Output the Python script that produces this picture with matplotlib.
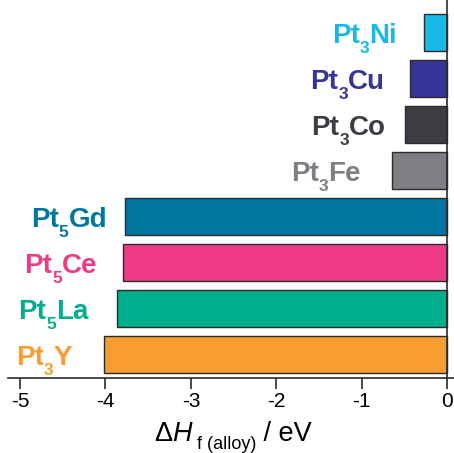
import matplotlib
matplotlib.use("Agg")
import matplotlib.pyplot as plt

plt.rcParams["font.family"] = ["Liberation Sans", "DejaVu Sans"]

# alloys, bottom to top
base = ["Pt", "Pt", "Pt", "Pt", "Pt", "Pt", "Pt", "Pt"]
sub = ["3", "5", "5", "5", "3", "3", "3", "3"]
metal = ["Y", "La", "Ce", "Gd", "Fe", "Co", "Cu", "Ni"]
dH = [-4.02, -3.87, -3.80, -3.77, -0.65, -0.50, -0.44, -0.27]
colors = ["#f89d31", "#00ae8b", "#ef3b86", "#00759f",
          "#7e7f85", "#3b3d42", "#35349a", "#19b9e6"]

# right edge of each name label, in eV
label_x = [-4.39, -4.20, -4.09, -3.98, -1.01, -0.72, -0.73, -0.59]

fig = plt.figure(figsize=(4.54, 4.53), dpi=100)
ax = fig.add_axes([0.0176, 0.1656, 0.982, 0.8344])
renderer = fig.canvas.get_renderer()


def text_width(s, **kw):
    t = fig.text(0, 0, s, **kw)
    w = t.get_window_extent(renderer).width
    t.remove()
    return w


def draw_pieces(pieces, xy, xycoords, ha="left", **kw):
    """pieces: list of (text, fontsize, drop_px, extra_kw); laid out along a baseline."""
    widths = [text_width(s, fontsize=fs, **kw, **ex) for s, fs, _, ex in pieces]
    total = sum(widths)
    x0 = {"left": 0, "right": -total, "center": -total / 2}[ha]
    for (s, fs, drop, ex), w in zip(pieces, widths):
        ax.annotate(s, xy=xy, xycoords=xycoords, xytext=(x0, -drop),
                    textcoords="offset pixels", fontsize=fs, ha="left",
                    va="baseline", annotation_clip=False, **kw, **ex)
        x0 += w


ypos = list(range(len(dH)))
ax.barh(ypos, dH, height=0.8, color=colors, edgecolor="#2b2b2b", linewidth=1.0, zorder=2)

for y, x, c, b, s, m in zip(ypos, label_x, colors, base, sub, metal):
    draw_pieces([(b, 20, 0, {}), (s, 12.5, 10, {}), (m, 20, 0, {})],
                (x, y - 0.22), "data", ha="right", color=c, fontweight="bold")

ax.axvline(0, color="#2b2b2b", lw=1.2, zorder=3)
ax.set_xlim(-5.14, 0.076)
ax.set_ylim(-0.51, 7.71)
ax.set_yticks([])
for side in ["top", "right", "left"]:
    ax.spines[side].set_visible(False)
ax.spines["bottom"].set_color("#2b2b2b")
ax.spines["bottom"].set_linewidth(1.2)
ax.set_xticks([-5, -4, -3, -2, -1, 0])
ax.set_xticklabels(["-5", "-4", "-3", "-2", "-1", "0"])
ax.tick_params(axis="x", direction="out", length=8, width=1.2, color="#2b2b2b",
               labelsize=15, pad=2)

# axis title: ΔH_f (alloy) / eV
draw_pieces([("\u0394", 19.5, 0, {}), ("H", 19.5, 0, {"fontstyle": "italic"}),
             (" f (alloy)", 13, 8, {}), (" / eV", 19.5, 0, {})],
            (233 / 454, 12 / 453), "figure fraction", ha="center", color="black")

fig.savefig("out.png", dpi=100)
